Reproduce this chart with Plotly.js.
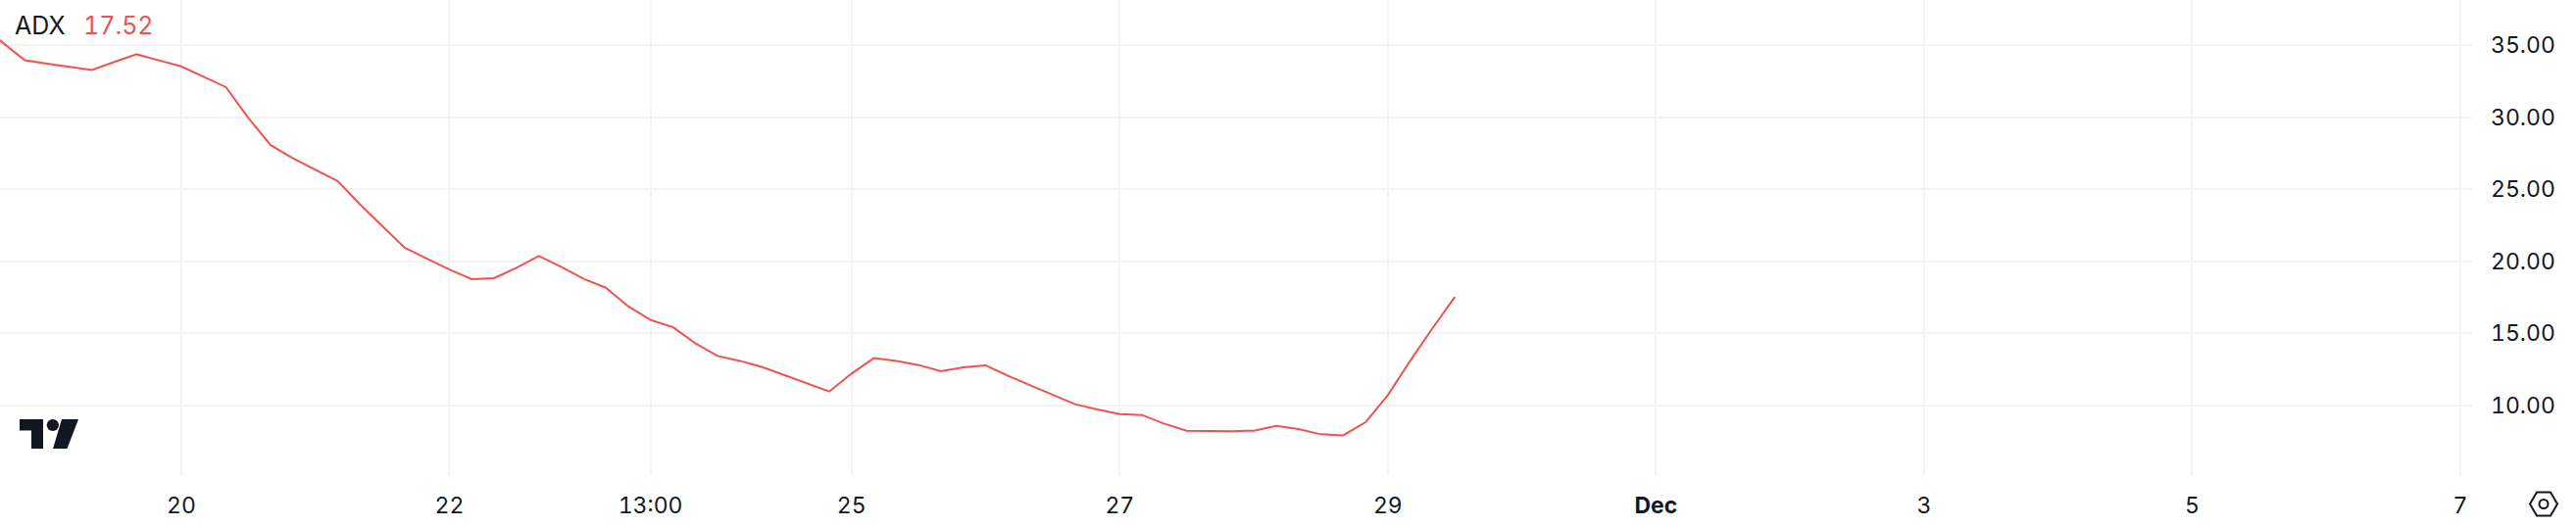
<!DOCTYPE html>
<html>
<head>
<meta charset="utf-8">
<script src="https://cdn.plot.ly/plotly-3.0.1.min.js"></script>
<style>html,body{margin:0;padding:0;background:#fff;overflow:hidden}#chart{width:2628px;height:538px}
svg text{font-variant-numeric:tabular-nums;font-feature-settings:"tnum" 1}</style>
</head>
<body>
<div id="chart"></div>
<script>
const times = [
'2024-11-18 12:00','2024-11-18 16:00','2024-11-18 20:00',
'2024-11-19 00:00','2024-11-19 04:00','2024-11-19 08:00','2024-11-19 12:00','2024-11-19 16:00','2024-11-19 20:00',
'2024-11-20 00:00','2024-11-20 04:00','2024-11-20 08:00','2024-11-20 12:00','2024-11-20 16:00','2024-11-20 20:00',
'2024-11-21 00:00','2024-11-21 04:00','2024-11-21 08:00','2024-11-21 12:00','2024-11-21 16:00','2024-11-21 20:00',
'2024-11-22 00:00','2024-11-22 04:00','2024-11-22 08:00','2024-11-22 12:00','2024-11-22 16:00','2024-11-22 20:00',
'2024-11-23 00:00','2024-11-23 04:00','2024-11-23 08:00','2024-11-23 12:00','2024-11-23 16:00','2024-11-23 20:00',
'2024-11-24 00:00','2024-11-24 04:00','2024-11-24 08:00','2024-11-24 12:00','2024-11-24 16:00','2024-11-24 20:00',
'2024-11-25 00:00','2024-11-25 04:00','2024-11-25 08:00','2024-11-25 12:00','2024-11-25 16:00','2024-11-25 20:00',
'2024-11-26 00:00','2024-11-26 04:00','2024-11-26 08:00','2024-11-26 12:00','2024-11-26 16:00','2024-11-26 20:00',
'2024-11-27 00:00','2024-11-27 04:00','2024-11-27 08:00','2024-11-27 12:00','2024-11-27 16:00','2024-11-27 20:00',
'2024-11-28 00:00','2024-11-28 04:00','2024-11-28 08:00','2024-11-28 12:00','2024-11-28 16:00','2024-11-28 20:00',
'2024-11-29 00:00','2024-11-29 04:00','2024-11-29 08:00','2024-11-29 12:00'
];
const adxValues = [
36.42,35.16,33.95,33.72,33.49,33.28,33.84,34.37,33.95,
33.53,32.81,32.09,29.95,28.06,27.15,26.36,25.57,23.94,22.41,20.94,20.17,19.43,18.75,
18.82,19.55,20.36,19.61,18.78,18.16,16.87,15.92,15.42,14.31,13.42,13.08,12.65,12.09,11.54,10.95,
12.20,13.27,13.08,12.79,12.36,12.63,12.77,12.04,11.38,10.70,10.07,9.71,9.39,9.32,8.71,8.23,
8.19,8.20,8.23,8.57,8.34,7.98,7.91,8.82,10.70,13.08,15.35,17.52
];
const xTickVals = ['2024-11-20','2024-11-22','2024-11-23 12:00','2024-11-25','2024-11-27','2024-11-29','2024-12-01','2024-12-03','2024-12-05','2024-12-07'];
const xTickText = ['20','22','13:00','25','27','29','<b>Dec</b>','3','5','7'];
const yTickVals = [10,15,20,25,30,35];
const yTickText = ['10.00','15.00','20.00','25.00','30.00','35.00'];
const seriesName = 'ADX';
const lastValueText = '17.52';

const W = 2628, H = 538, plotW = 2522, plotH = 486;
const FONT = 'Inter, "Noto Sans", sans-serif';
const INK = '#131722', RED = '#EF5350', GRID = '#F2F3F5';
const px = x => x / plotW;
const py = y => 1 - y / plotH;
const poly = pts => 'M' + pts.map(p => px(p[0]) + ',' + py(p[1])).join('L') + 'Z';
const logoBase = {type:'path', xref:'paper', yref:'paper', fillcolor:INK, line:{width:0}, layer:'above'};

const trace = {x:times, y:adxValues, type:'scatter', mode:'lines', line:{color:RED, width:2}, hoverinfo:'skip', showlegend:false, cliponaxis:true};

const layout = {
  width:W, height:H,
  margin:{l:0, r:W-plotW, t:0, b:H-plotH, pad:0},
  paper_bgcolor:'#fff', plot_bgcolor:'#fff',
  font:{family:FONT, color:INK, size:23},
  showlegend:false, hovermode:false,
  xaxis:{type:'date', range:['2024-11-18 15:33','2024-12-07 02:06'], tickmode:'array', tickvals:xTickVals, ticktext:xTickText,
    showgrid:true, gridcolor:GRID, gridwidth:2, zeroline:false, showline:false, ticks:'', ticklabelstandoff:14,
    tickfont:{family:FONT, size:23, color:INK}},
  yaxis:{side:'right', range:[5.08,38.14], tickmode:'array', tickvals:yTickVals, ticktext:yTickText,
    showgrid:true, gridcolor:GRID, gridwidth:2, zeroline:false, showline:false, ticks:'', ticklabelstandoff:18,
    tickfont:{family:FONT, size:23, color:INK}},
  annotations:[
    {xref:'paper', yref:'paper', x:px(12.5), y:py(26), xanchor:'left', yanchor:'middle', text:seriesName, showarrow:false, font:{family:FONT, size:25, color:INK}},
    {xref:'paper', yref:'paper', x:px(83), y:py(26), xanchor:'left', yanchor:'middle', text:lastValueText, showarrow:false, font:{family:FONT, size:25, color:RED}}
  ],
  shapes:[
    Object.assign({}, logoBase, {path:poly([[20,428],[44,428],[44,458],[32,458],[32,439.5],[20,439.5]])}),
    Object.assign({}, logoBase, {path:poly([[63,428],[80,428],[68.5,458],[54,458]])}),
    {type:'circle', xref:'paper', yref:'paper', x0:px(47.7), x1:px(60), y0:py(440), y1:py(428), fillcolor:INK, line:{width:0}, layer:'above'},
    {type:'path', xref:'paper', yref:'paper', path:poly([[2581,514.5],[2588,502.5],[2602,502.5],[2609,514.5],[2602,526.5],[2588,526.5]]), fillcolor:'rgba(0,0,0,0)', line:{color:INK, width:2}, layer:'above'},
    {type:'circle', xref:'paper', yref:'paper', x0:px(2590.5), x1:px(2599.5), y0:py(519), y1:py(510), fillcolor:'rgba(0,0,0,0)', line:{color:INK, width:2}, layer:'above'}
  ]
};
Plotly.newPlot('chart', [trace], layout, {displayModeBar:false, staticPlot:true});
</script>
</body>
</html>
